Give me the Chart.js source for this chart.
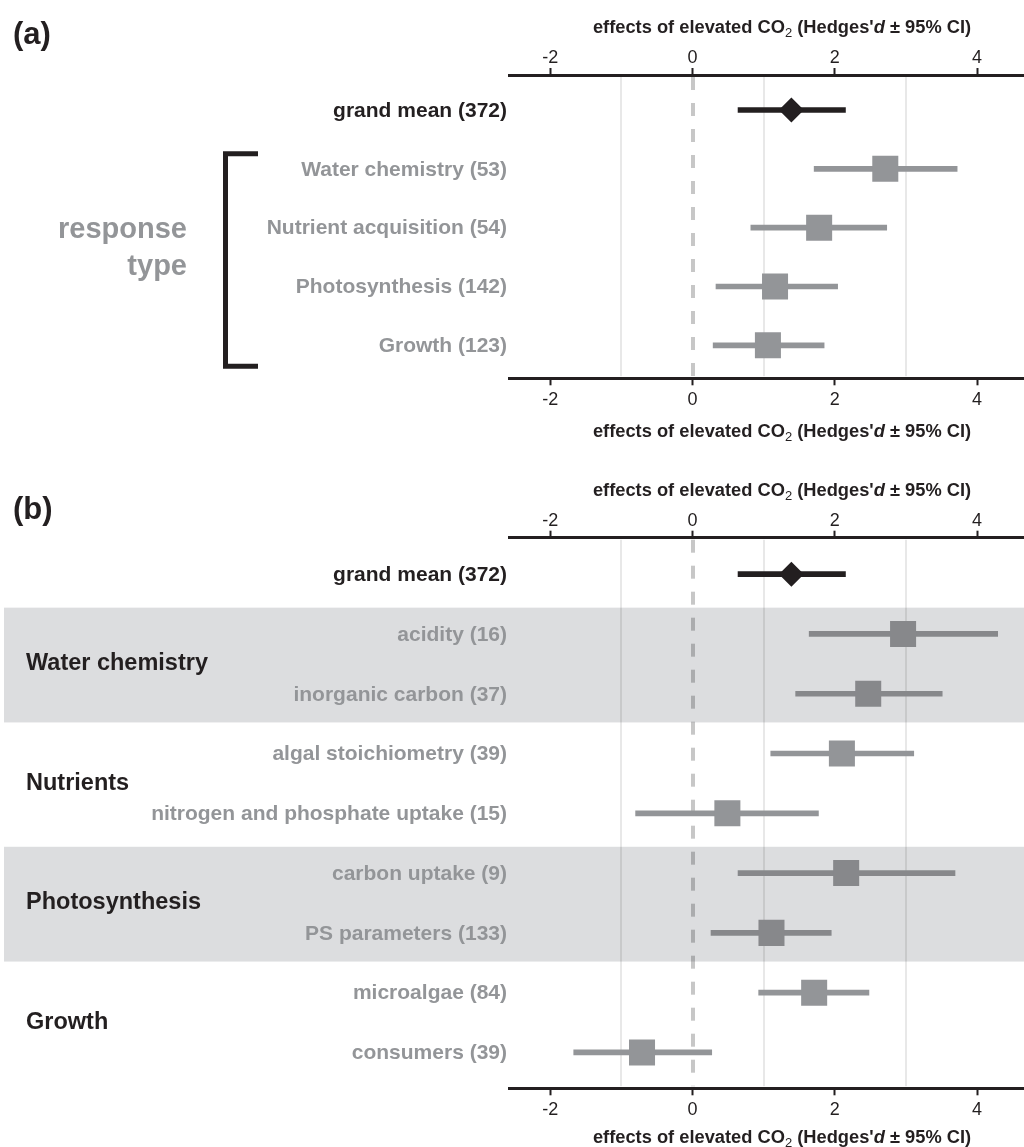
<!DOCTYPE html>
<html>
<head>
<meta charset="utf-8">
<script src="https://cdn.jsdelivr.net/npm/chart.js@4"></script>
<style>
  body { margin: 0; background: #fff; }
  #wrap { position: relative; width: 1024px; height: 1147px; }
  canvas { position: absolute; left: 0; }
</style>
</head>
<body>
<div id="wrap">
  <canvas id="chartA" width="1024" height="455" style="top:0"></canvas>
  <canvas id="chartB" width="1024" height="692" style="top:455px"></canvas>
</div>
<script>
const FONT = '"Liberation Sans", Arial, Helvetica, sans-serif';
const INK = '#231f20';
const GREY = '#939598';
const GREY_DARK = '#87888b';
const BAND = '#dcdddf';

// x axis
const xTicks = [-2, 0, 2, 4];
const xGrid = [-1, 1, 3];
const xMin = -2.58, xMax = 4.66;

// (a) by response type
const typeLabels = ['grand mean (372)', 'Water chemistry (53)', 'Nutrient acquisition (54)', 'Photosynthesis (142)', 'Growth (123)'];
const typeMean = [1.39, 2.71, 1.78, 1.16, 1.06];
const typeLow = [0.64, 1.71, 0.82, 0.33, 0.29];
const typeHigh = [2.15, 3.72, 2.73, 2.04, 1.85];

// (b) by response variable
const groupNames = ['Water chemistry', 'Nutrients', 'Photosynthesis', 'Growth'];
const shadedGroups = [0, 2];
const subLabels = ['grand mean (372)', 'acidity (16)', 'inorganic carbon (37)', 'algal stoichiometry (39)',
  'nitrogen and phosphate uptake (15)', 'carbon uptake (9)', 'PS parameters (133)', 'microalgae (84)', 'consumers (39)'];
const subGroup = [-1, 0, 0, 1, 1, 2, 2, 3, 3];
const subMean = [1.39, 2.96, 2.47, 2.10, 0.49, 2.16, 1.11, 1.71, -0.71];
const subLow = [0.64, 1.64, 1.45, 1.10, -0.80, 0.64, 0.26, 0.93, -1.67];
const subHigh = [2.15, 4.29, 3.51, 3.11, 1.77, 3.69, 1.95, 2.48, 0.27];

function drawAxisTitle(ctx, cx, cy) {
  const parts = [
    { t: 'effects of elevated CO', f: 'bold 18.3px ' + FONT, dy: 0 },
    { t: '2', f: '13px ' + FONT, dy: 5 },
    { t: " (Hedges'", f: 'bold 18.3px ' + FONT, dy: 0 },
    { t: 'd', f: 'italic bold 18.3px ' + FONT, dy: 0 },
    { t: ' \u00b1 95% CI)', f: 'bold 18.3px ' + FONT, dy: 0 }
  ];
  let total = 0;
  parts.forEach(p => { ctx.font = p.f; p.w = ctx.measureText(p.t).width; total += p.w; });
  let x = cx - total / 2;
  ctx.textAlign = 'left';
  ctx.textBaseline = 'middle';
  ctx.fillStyle = INK;
  parts.forEach(p => {
    ctx.font = p.f;
    ctx.fillText(p.t, x, cy + p.dy);
    x += p.w;
  });
}

function xAxis(position, height, pad) {
  return {
    type: 'linear',
    axis: 'x',
    position: position,
    min: xMin,
    max: xMax,
    offset: false,
    afterBuildTicks: s => { s.ticks = xTicks.map(v => ({ value: v })); },
    afterFit: s => { s.height = height; },
    ticks: {
      font: { family: FONT, size: 18, lineHeight: 1 },
      color: INK,
      padding: pad,
      maxRotation: 0,
      autoSkip: false,
      callback: v => String(v)
    },
    grid: { drawOnChartArea: false, drawTicks: true, tickLength: 7, tickWidth: 2, tickColor: INK },
    border: { display: true, color: INK, width: 3 }
  };
}

function gridPlugin() {
  return {
    id: 'refLines',
    beforeDatasetsDraw(chart) {
      const { ctx, chartArea, scales } = chart;
      const x = scales.x;
      ctx.save();
      ctx.lineWidth = 2;
      ctx.strokeStyle = 'rgba(0,0,0,0.09)';
      xGrid.forEach(v => {
        const px = Math.round(x.getPixelForValue(v));
        ctx.beginPath();
        ctx.moveTo(px, chartArea.top + 2);
        ctx.lineTo(px, chartArea.bottom - 2);
        ctx.stroke();
      });
      ctx.lineWidth = 4;
      ctx.strokeStyle = 'rgba(0,0,0,0.22)';
      ctx.setLineDash([13, 13]);
      const z = Math.round(x.getPixelForValue(0));
      ctx.beginPath();
      ctx.moveTo(z, chartArea.top + 2);
      ctx.lineTo(z, chartArea.bottom - 2);
      ctx.stroke();
      ctx.restore();
    }
  };
}

function rowLabels(ctx, chart, labels) {
  const y = chart.scales.y;
  ctx.font = 'bold 21px ' + FONT;
  ctx.textAlign = 'right';
  ctx.textBaseline = 'middle';
  labels.forEach((lab, i) => {
    ctx.fillStyle = i === 0 ? INK : GREY;
    ctx.fillText(lab, 507, y.getPixelForValue(i) + 1);
  });
}

function baseOptions(yMin, yMax, topH, bottomH, topPad, bottomPad) {
  return {
    responsive: false,
    animation: false,
    events: [],
    indexAxis: 'y',
    layout: { autoPadding: false, padding: { left: 509, right: 0, top: 0, bottom: 0 } },
    plugins: { legend: { display: false }, tooltip: { enabled: false } },
    scales: {
      y: { type: 'linear', reverse: true, offset: false, min: yMin, max: yMax, display: false },
      x: xAxis('bottom', bottomH, bottomPad),
      x2: xAxis('top', topH, topPad)
    }
  };
}

function datasets(mean, low, high, colors) {
  return [
    {
      type: 'scatter',
      data: mean.map((m, i) => ({ x: m, y: i })),
      pointStyle: mean.map((m, i) => i === 0 ? 'rectRot' : 'rect'),
      pointRadius: mean.map((m, i) => i === 0 ? 12.5 : 18.4),
      pointBackgroundColor: colors,
      pointBorderWidth: 0,
      order: 0
    },
    {
      type: 'bar',
      data: mean.map((m, i) => ({ y: i, x: [low[i], high[i]] })),
      backgroundColor: colors,
      barThickness: 5,
      borderWidth: 0,
      order: 1
    }
  ];
}

// ---- panel (a)
const colorsA = typeLabels.map((l, i) => i === 0 ? INK : GREY);
new Chart(document.getElementById('chartA'), {
  type: 'bar',
  data: { datasets: datasets(typeMean, typeLow, typeHigh, colorsA) },
  options: baseOptions(-0.595, 4.56, 75, 76.7, 1, 6),
  plugins: [gridPlugin(), {
    id: 'decorA',
    afterDraw(chart) {
      const { ctx } = chart;
      const y = chart.scales.y;
      ctx.save();
      rowLabels(ctx, chart, typeLabels);
      // bracket
      const top = y.getPixelForValue(1) - 15;
      const bot = y.getPixelForValue(typeLabels.length - 1) + 21;
      ctx.strokeStyle = INK;
      ctx.lineWidth = 5;
      ctx.lineJoin = 'miter';
      ctx.beginPath();
      ctx.moveTo(258, top);
      ctx.lineTo(225.5, top);
      ctx.lineTo(225.5, bot);
      ctx.lineTo(258, bot);
      ctx.stroke();
      // response type
      ctx.font = 'bold 29px ' + FONT;
      ctx.fillStyle = GREY;
      ctx.textAlign = 'right';
      ctx.textBaseline = 'middle';
      ctx.fillText('response', 187, 230);
      ctx.fillText('type', 187, 267);
      // panel letter
      ctx.font = 'bold 31px ' + FONT;
      ctx.fillStyle = INK;
      ctx.textAlign = 'left';
      ctx.fillText('(a)', 13, 35);
      drawAxisTitle(ctx, 782, 28);
      drawAxisTitle(ctx, 782, 432);
      ctx.restore();
    }
  }]
});

// ---- panel (b)
const colorsB = subLabels.map((l, i) => i === 0 ? INK : (shadedGroups.includes(subGroup[i]) ? GREY_DARK : GREY));
new Chart(document.getElementById('chartB'), {
  type: 'bar',
  data: { datasets: datasets(subMean, subLow, subHigh, colorsB) },
  options: baseOptions(-0.61, 8.6, 82.7, 58.7, 1, 6),
  plugins: [gridPlugin(), {
    id: 'decorB',
    beforeDraw(chart) {
      const { ctx } = chart;
      const y = chart.scales.y;
      ctx.save();
      ctx.fillStyle = BAND;
      shadedGroups.forEach(g => {
        const rows = subGroup.map((s, i) => s === g ? i : -1).filter(i => i >= 0);
        const t = y.getPixelForValue(rows[0] - 0.44);
        const b = y.getPixelForValue(rows[rows.length - 1] + 0.48);
        ctx.fillRect(4, t, 1020, b - t);
      });
      ctx.restore();
    },
    afterDraw(chart) {
      const { ctx } = chart;
      const y = chart.scales.y;
      ctx.save();
      rowLabels(ctx, chart, subLabels);
      ctx.font = 'bold 23.5px ' + FONT;
      ctx.fillStyle = INK;
      ctx.textAlign = 'left';
      ctx.textBaseline = 'middle';
      groupNames.forEach((g, gi) => {
        const rows = subGroup.map((s, i) => s === gi ? i : -1).filter(i => i >= 0);
        const mid = (y.getPixelForValue(rows[0]) + y.getPixelForValue(rows[rows.length - 1])) / 2;
        ctx.fillText(g, 26, mid);
      });
      ctx.font = 'bold 31px ' + FONT;
      ctx.fillText('(b)', 13, 55);
      drawAxisTitle(ctx, 782, 36);
      drawAxisTitle(ctx, 782, 683);
      ctx.restore();
    }
  }]
});
</script>
</body>
</html>
